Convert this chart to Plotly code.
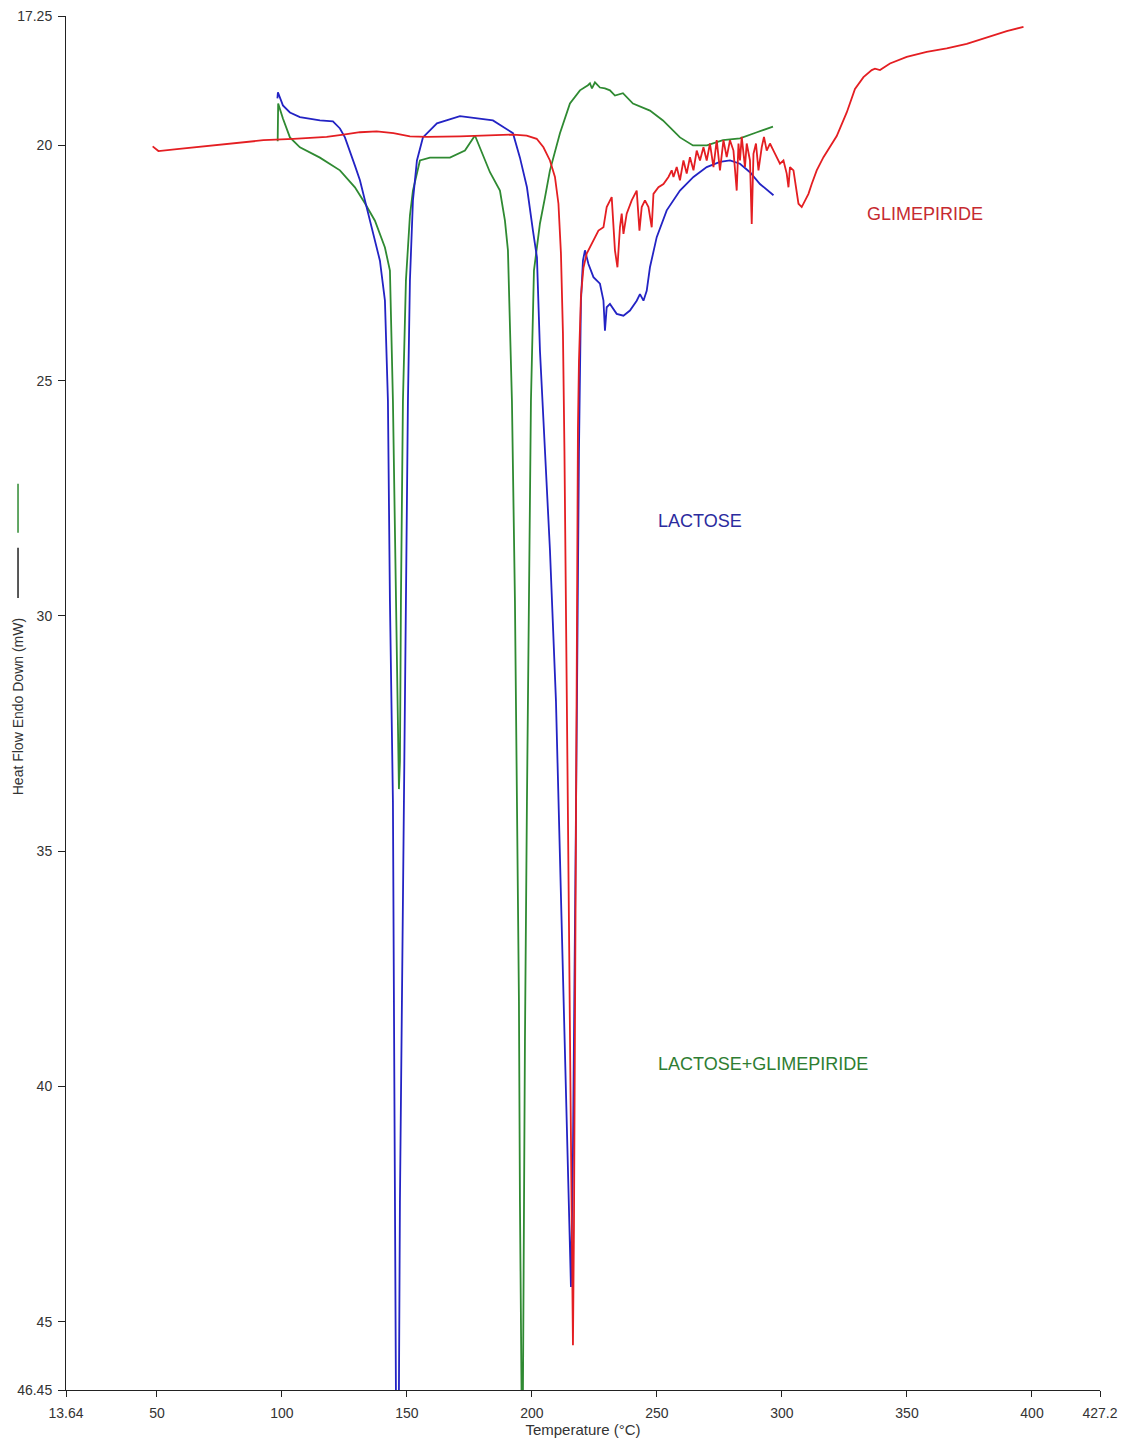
import plotly.graph_objects as go

# ---------------- data ----------------
glim_T = [48.3, 50.6, 58.0, 65.9, 79.2, 92.6, 104.6, 117.9, 124.6, 131.2, 137.9, 144.6, 151.2, 157.9,
          171.2, 184.6, 192.6, 197.9, 201.9, 204.6, 207.2, 209.2, 210.6, 211.6, 212.4, 213.0, 213.6,
          214.2, 214.8, 215.4, 216.0, 216.4, 216.8, 217.2, 217.6, 218.0, 218.4, 218.8, 219.6, 220.6,
          221.9, 226.6, 228.6, 229.9, 231.2, 231.9, 233.2, 234.2, 235.2, 235.9, 236.6, 237.9, 239.9,
          241.2, 241.9, 243.0, 243.9, 245.2, 246.6, 247.9, 248.6, 250.6, 252.6, 254.6, 255.9, 256.6,
          257.9, 259.2, 260.6, 261.9, 263.2, 264.6, 265.9, 267.2, 268.6, 269.9, 271.2, 272.6, 273.9,
          275.2, 276.6, 277.9, 279.2, 280.6, 281.9, 282.6, 283.2, 283.9, 285.2, 285.9, 287.2, 287.9,
          288.6, 289.6, 290.6, 291.9, 292.8, 293.9, 295.2, 296.6, 297.9, 299.2, 300.6, 301.9, 302.6,
          303.2, 304.6, 305.2, 306.6, 307.9, 309.2, 310.6, 311.9, 313.9, 316.6, 319.2, 321.9, 325.9,
          329.2, 332.6, 335.9, 337.2, 339.2, 343.2, 349.9, 357.9, 365.9, 373.9, 381.9, 389.9, 396.6]
glim_Y = [20.02, 20.12, 20.08, 20.04, 19.96, 19.89, 19.86, 19.82, 19.77, 19.72, 19.70, 19.74, 19.81, 19.82,
          19.81, 19.79, 19.77, 19.79, 19.86, 20.04, 20.32, 20.67, 21.24, 22.30, 24.00, 26.50, 29.50,
          33.00, 36.50, 40.00, 43.50, 45.50, 43.00, 39.00, 34.00, 29.50, 26.00, 24.60, 23.20, 22.60,
          22.30, 21.81, 21.74, 21.31, 21.17, 21.10, 22.23, 22.59, 21.74, 21.45, 21.88, 21.45, 21.17,
          21.03, 20.96, 21.81, 21.31, 21.17, 21.31, 21.74, 21.03, 20.89, 20.82, 20.67, 20.53, 20.67,
          20.46, 20.74, 20.32, 20.60, 20.25, 20.53, 20.11, 20.32, 20.04, 20.32, 19.96, 20.46, 19.89,
          20.53, 19.89, 20.25, 19.89, 20.11, 20.96, 19.96, 20.32, 19.82, 20.46, 19.96, 20.32, 21.67,
          20.18, 19.96, 20.53, 20.04, 19.82, 20.11, 19.96, 20.11, 20.25, 20.39, 20.32, 20.60, 20.89,
          20.46, 20.53, 20.74, 21.24, 21.31, 21.17, 21.03, 20.82, 20.53, 20.25, 20.04, 19.80, 19.30,
          18.80, 18.55, 18.40, 18.37, 18.40, 18.26, 18.12, 18.01, 17.94, 17.84, 17.70, 17.57, 17.48]

lact_T = [98.2, 98.4, 100.4, 103.2, 107.2, 115.2, 120.4, 123.2, 125.2, 127.2, 129.2, 131.2, 135.2,
          139.2, 141.2, 142.4, 143.2, 144.4, 144.8, 145.2, 145.6, 146.2, 146.8, 147.2, 148.0, 148.8,
          149.6, 150.4, 151.2, 152.4, 154.0, 156.4, 162.0, 171.2, 184.4, 192.4, 195.2, 198.0, 200.4,
          202.0, 203.2, 207.2, 209.6, 211.2, 213.2, 214.8, 215.6, 216.4, 217.2, 218.0, 218.8, 219.6,
          220.4, 221.2, 222.6, 224.6, 227.2, 228.6, 229.2, 229.9, 231.2, 233.9, 236.6, 239.2, 241.9,
          243.2, 244.6, 245.9, 247.2, 249.9, 253.9, 259.2, 264.6, 269.9, 275.2, 279.2, 283.2, 287.2,
          291.2, 296.6]
lact_Y = [19.00, 18.87, 19.15, 19.30, 19.40, 19.47, 19.49, 19.64, 19.83, 20.11, 20.43, 20.74, 21.60,
          22.45, 23.30, 25.43, 29.68, 33.94, 38.19, 42.45, 46.49, 47.50, 46.49, 42.45, 38.19, 33.94,
          29.68, 25.43, 22.87, 21.17, 20.32, 19.83, 19.53, 19.38, 19.47, 19.74, 20.26, 20.89, 21.81,
          22.38, 24.36, 28.60, 31.80, 35.00, 39.26, 42.45, 44.26, 41.40, 37.10, 31.80, 26.50, 23.30,
          22.45, 22.23, 22.52, 22.80, 22.94, 23.30, 23.94, 23.44, 23.37, 23.58, 23.62, 23.51, 23.30,
          23.16, 23.30, 23.09, 22.59, 21.95, 21.38, 20.96, 20.67, 20.46, 20.35, 20.32, 20.39, 20.57,
          20.82, 21.06]

mix_T = [98.3, 98.5, 100.4, 103.2, 107.2, 115.2, 123.2, 129.2, 133.2, 137.2, 141.2, 143.2, 144.4,
         145.6, 146.4, 146.8, 147.2, 147.6, 148.4, 149.6, 151.2, 152.4, 155.2, 159.2, 167.2, 173.2,
         177.2, 179.2, 183.2, 187.2, 189.2, 190.4, 192.0, 193.2, 194.0, 194.8, 195.2, 195.6, 196.0,
         196.4, 196.8, 197.2, 198.0, 198.8, 199.6, 200.8, 203.2, 205.2, 207.2, 211.2, 215.2, 219.2,
         221.2, 222.4, 223.2, 224.0, 225.2, 227.2, 229.2, 231.2, 233.2, 236.4, 240.4, 247.2, 252.4,
         259.2, 264.4, 270.0, 276.4, 283.2, 290.0, 296.4]
mix_Y = [19.91, 19.11, 19.43, 19.83, 20.04, 20.26, 20.53, 20.89, 21.23, 21.60, 22.17, 22.66, 25.43,
         29.68, 33.09, 33.68, 33.09, 29.68, 25.43, 22.87, 21.49, 20.96, 20.32, 20.26, 20.26, 20.11,
         19.79, 20.04, 20.57, 20.96, 21.60, 22.23, 25.43, 29.68, 33.94, 38.19, 42.45, 46.49, 47.50,
         46.49, 42.45, 39.04, 33.94, 29.68, 25.43, 22.66, 21.66, 21.11, 20.53, 19.74, 19.11, 18.83,
         18.77, 18.72, 18.68, 18.79, 18.66, 18.77, 18.79, 18.83, 18.94, 18.89, 19.11, 19.26, 19.47,
         19.83, 20.00, 20.00, 19.89, 19.85, 19.72, 19.60]

x_ticks = [13.64, 50, 100, 150, 200, 250, 300, 350, 400, 427.2]
x_ticktext = ["13.64", "50", "100", "150", "200", "250", "300", "350", "400", "427.2"]
y_ticks = [17.25, 20, 25, 30, 35, 40, 45, 46.45]
y_ticktext = ["17.25", "20", "25", "30", "35", "40", "45", "46.45"]

series_labels = ["GLIMEPIRIDE", "LACTOSE", "LACTOSE+GLIMEPIRIDE"]
label_T = [357.2, 267.2, 292.4]
label_Y = [21.45, 27.98, 39.53]

# ---------------- styles ----------------
RED, BLUE, GREEN = "#e41e22", "#2323c4", "#2f8a32"
LABEL_COLORS = ["#c62a30", "#2b2b9e", "#2e7d32"]
FONT = "Liberation Sans, Arial, sans-serif"

fig = go.Figure()
fig.add_trace(go.Scatter(x=mix_T, y=mix_Y, mode="lines", line=dict(color=GREEN, width=1.8),
                         name="LACTOSE+GLIMEPIRIDE"))
fig.add_trace(go.Scatter(x=lact_T, y=lact_Y, mode="lines", line=dict(color=BLUE, width=1.8),
                         name="LACTOSE"))
fig.add_trace(go.Scatter(x=glim_T, y=glim_Y, mode="lines", line=dict(color=RED, width=1.8),
                         name="GLIMEPIRIDE"))

for txt, tx, ty, col in zip(series_labels, label_T, label_Y, LABEL_COLORS):
    fig.add_annotation(x=tx, y=ty, xref="x", yref="y", text=txt, showarrow=False,
                       xanchor="center", yanchor="middle",
                       font=dict(family=FONT, size=18, color=col))

# y-axis title (placed left of the tick labels like the instrument software)
fig.add_annotation(x=-0.0464, y=31.94, xref="paper", yref="y", text="Heat Flow Endo Down (mW)",
                   textangle=-90, showarrow=False, xanchor="center", yanchor="middle",
                   font=dict(family=FONT, size=14, color="#333333"))
# small legend keys beside the y title
fig.add_shape(type="line", xref="paper", yref="y", x0=-0.0464, x1=-0.0464, y0=27.19, y1=28.23,
              line=dict(color=GREEN, width=1.5))
fig.add_shape(type="line", xref="paper", yref="y", x0=-0.0464, x1=-0.0464, y0=28.55, y1=29.62,
              line=dict(color="#222222", width=1.5))

fig.update_layout(
    width=1121, height=1443,
    margin=dict(l=66, r=21, t=16, b=53),
    paper_bgcolor="white", plot_bgcolor="white",
    showlegend=False,
    font=dict(family=FONT, size=14, color="#333333"),
    xaxis=dict(range=[13.64, 427.2], tickmode="array", tickvals=x_ticks, ticktext=x_ticktext,
               showline=True, linecolor="#222222", linewidth=1, ticks="outside", ticklen=6,
               tickcolor="#222222", showgrid=False, zeroline=False, ticklabelstandoff=4,
               automargin=False,
               title=dict(text="Temperature (°C)", standoff=2, font=dict(size=15))),
    yaxis=dict(range=[46.45, 17.25], tickmode="array", tickvals=y_ticks, ticktext=y_ticktext,
               showline=True, linecolor="#222222", linewidth=1, ticks="outside", ticklen=7,
               tickcolor="#222222", showgrid=False, zeroline=False, ticklabelstandoff=3,
               automargin=False),
)

fig.write_html("out.html")
